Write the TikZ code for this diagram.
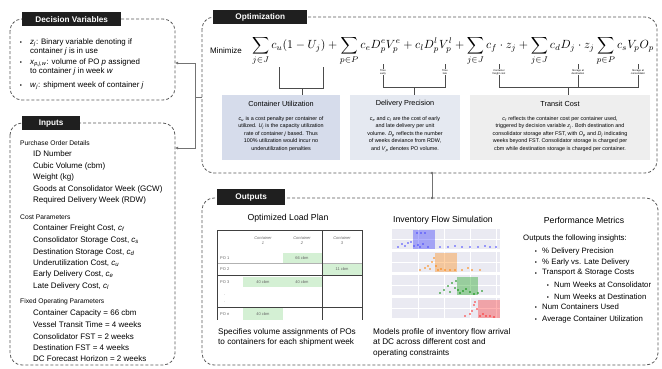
\RequirePackage{fix-cm}
\documentclass[tikz,border=0pt]{standalone}
\usepackage{amsmath}
\usepackage{graphicx}
\usepackage{fontspec}
\setmainfont{Liberation Sans}
\usetikzlibrary{arrows.meta}
\definecolor{cuc}{HTML}{D6DCEB}
\definecolor{dpc}{HTML}{E5E9F1}
\definecolor{tcc}{HTML}{EEEEEE}
\definecolor{seab}{HTML}{EAEAF2}
\definecolor{grn}{HTML}{D4F0D4}
\newcommand{\vv}[2]{\textit{#1}\textsubscript{\textit{#2}}}
\newcommand{\vx}[1]{\textit{#1}}
\begin{document}
\begin{tikzpicture}[x=1pt,y=-1pt,
  panel/.style={draw=black!65, dash pattern=on 3pt off 2pt, line width=0.8pt, rounded corners=12pt},
  ttl/.style={fill=black!88, text=white, font=\fontsize{8.2}{9}\selectfont\bfseries, inner sep=0pt, minimum height=14pt, anchor=north west},
  bul/.style={anchor=base, inner sep=0pt, font=\fontsize{6}{7}\selectfont},
  dvt/.style={anchor=base west, align=left, inner sep=0pt, font=\fontsize{7.9}{9}\selectfont},
  hd/.style={anchor=west, inner sep=0pt, font=\fontsize{6.7}{7}\selectfont},
  itm/.style={anchor=west, inner sep=0pt, font=\fontsize{8}{9}\selectfont},
  pmi/.style={anchor=west, inner sep=0pt, font=\fontsize{7.8}{9}\selectfont},
  bx/.style={anchor=north west, inner sep=0pt},
  bxt/.style={font=\fontsize{7.3}{8}\selectfont, inner sep=0pt},
  bxb/.style={align=center, font=\fontsize{5.4}{7.5}\selectfont, inner sep=0pt},
  conn/.style={draw=black!55, line width=0.9pt},
  tinyl/.style={font=\fontsize{2.6}{3}\selectfont, align=center, inner sep=0.3pt},
  brk/.style={draw=black!70, line width=0.7pt},
  otitle/.style={font=\fontsize{8.7}{9}\selectfont, inner sep=0pt},
  capt/.style={anchor=north west, align=left, inner sep=0pt, font=\fontsize{8.2}{10.8}\selectfont},
  tline/.style={draw=black!75, line width=0.9pt},
  thin/.style={draw=black!30, line width=0.4pt},
  cell/.style={font=\fontsize{4}{5}\selectfont, text=black!60, inner sep=0pt}
]
\useasboundingbox (0,0) rectangle (662,368);

% ---------------- Decision variables ----------------
\draw[panel] (10,19) rectangle (175,100);
\node[ttl, minimum width=99pt] (tdv) at (22,12) {Decision Variables};
\node[bul] (b1) at (21,44) {\textbullet};
\node[dvt] (dv1) at (30,53) {\vv{z}{j}: Binary variable denoting if\\container \vx{j} is in use};
\node[bul] (b2) at (21,64) {\textbullet};
\node[dvt] (dv2) at (30,73) {\vv{x}{p,j,w}: volume of PO \vx{p} assigned\\to container \vx{j} in week \vx{w}};
\node[bul] (b3) at (21,87) {\textbullet};
\node[dvt] (dv3) at (30,87) {\vv{w}{j}: shipment week of container \vx{j}};

% ---------------- Inputs ----------------
\draw[panel] (10,123) rectangle (175,365);
\node[ttl, minimum width=58pt] (tin) at (22,116) {Inputs};
\node[hd] (h1) at (20,143) {Purchase Order Details};
\node[itm] (i1) at (33,154) {ID Number};
\node[itm] (i2) at (33,166) {Cubic Volume (cbm)};
\node[itm] (i3) at (33,177) {Weight (kg)};
\node[itm] (i4) at (33,189) {Goods at Consolidator Week (GCW)};
\node[itm] (i5) at (33,200) {Required Delivery Week (RDW)};
\node[hd] (h2) at (20,217) {Cost Parameters};
\node[itm] (i6) at (33,228) {Container Freight Cost, \vv{c}{f}};
\node[itm] (i7) at (33,240) {Consolidator Storage Cost, \vv{c}{s}};
\node[itm] (i8) at (33,252) {Destination Storage Cost, \vv{c}{d}};
\node[itm] (i9) at (33,263) {Underutilization Cost, \vv{c}{u}};
\node[itm] (i10) at (33,274) {Early Delivery Cost, \vv{c}{e}};
\node[itm] (i11) at (33,286) {Late Delivery Cost, \vv{c}{l}};
\node[hd] (h3) at (20,302) {Fixed Operating Parameters};
\node[itm] (i12) at (33,313) {Container Capacity = 66 cbm};
\node[itm] (i13) at (33,325) {Vessel Transit Time = 4 weeks};
\node[itm] (i14) at (33,337) {Consolidator FST = 2 weeks};
\node[itm] (i15) at (33,348) {Destination FST = 4 weeks};
\node[itm] (i16) at (33,359) {DC Forecast Horizon = 2 weeks};

% left bracket connector
\coordinate (dvR) at (175,63);
\coordinate (inR) at (175,148);
\coordinate (bxm) at (195,97);
\coordinate (opL) at (202,97);
\draw[conn, {Latex[length=3pt,width=3pt]}-{Latex[length=3pt,width=3pt]}] (dvR) -- (dvR -| bxm) -- (inR -| bxm) -- (inR);
\draw[conn] (bxm) -- (opL);

% ---------------- Optimization ----------------
\draw[panel] (202,17) rectangle (657,173);
\node[ttl, minimum width=94pt] (top) at (213,10) {Optimization};
\node[anchor=west, inner sep=0pt, font=\fontsize{8}{9}\selectfont] (mini) at (210,51) {Minimize};
\node[anchor=west, inner sep=0pt] (obj) at (252,51) {\resizebox{402pt}{!}{$\displaystyle\sum_{j\in J} c_u(1-U_j) + \sum_{p\in P} c_e D_p^e V_p^e + c_l D_p^l V_p^l + \sum_{j\in J} c_f\cdot z_j + \sum_{j\in J} c_d D_j\cdot z_j \sum_{p\in P} c_s V_p O_p$}};

% term labels
\node[tinyl] (l1) at (383,72) {Time\\early};
\node[tinyl] (l2) at (445,72) {Time\\late};
\node[tinyl] (l3) at (499,72) {Container\\freight cost};
\node[tinyl] (l4) at (578,72) {Storage at\\destination};
\node[tinyl] (l5) at (638,72) {Storage at\\consolidator};
\foreach \n in {l1,l2,l3,l4,l5}{
  \draw[brk, line width=0.5pt] (\n.north) -- ++(0,-5);
}
% bracket 1
\coordinate (k1a) at (279,67);
\coordinate (k1b) at (323,67);
\coordinate (k1m) at (302,88);
\draw[brk] (k1a) -- (k1a |- k1m) -- (k1b |- k1m) -- (k1b);
% bracket 2
\coordinate (k2m) at (414,87);
\draw[brk] (l1.south) -- (l1.south |- k2m) -- (l2.south |- k2m) -- (l2.south);
% bracket 3
\coordinate (k3m) at (568,87);
\draw[brk] (l3.south) -- (l3.south |- k3m) -- (l5.south |- k3m) -- (l5.south);
\draw[brk] (l4.south) -- (l4.south |- k3m);

% explanation boxes
\node[bx, fill=cuc, minimum width=118pt, minimum height=65pt] (cu) at (222,95) {};
\node[bx, fill=dpc, minimum width=110pt, minimum height=65pt] (dp) at (350,95) {};
\node[bx, fill=tcc, minimum width=180pt, minimum height=65pt] (tc) at (470,95) {};
\draw[brk] (k1m) -- (k1m |- cu.north);
\draw[brk] (k2m) -- (k2m |- dp.north);
\draw[brk] (k3m) -- (k3m |- tc.north);

\node[bxt] (cut) at (281,104) {Container Utilization};
\node[bxb] (cub) at (281,134) {\vv{c}{u} is a cost penalty per container of\\utilized. \vv{U}{j} is the capacity utilization\\rate of container \vx{j} based. Thus\\100\% utilization would incur no\\underutilization penalties};
\node[bxt] (dpt) at (405,104) {Delivery Precision};
\node[bxb] (dpb) at (405,134) {\vv{c}{e} and \vv{c}{l} are the cost of early\\and late delivery per unit\\volume. \vv{D}{p} reflects the number\\of weeks deviance from RDW,\\and \vv{V}{p} denotes PO volume.};
\node[bxt] (tct) at (560,104) {Transit Cost};
\node[bxb] (tcb) at (560,134) {\vv{c}{f} reflects the container cost per container used,\\triggered by decision variable \vv{z}{j}. Both destination and\\consolidator storage after FST, with \vv{O}{p} and \vv{D}{j} indicating\\weeks beyond FST. Consolidator storage is charged per\\cbm while destination storage is charged per container.};

% optimization -> outputs
\coordinate (opB) at (432,173);
\coordinate (ouT) at (432,198);
\draw[conn] (opB) -- (ouT);
\fill[black!55] (opB) circle (1.3pt) (ouT) circle (1.3pt);

% ---------------- Outputs ----------------
\draw[panel] (202,198) rectangle (658,365);
\node[ttl, minimum width=68pt, minimum height=16pt] (tou) at (217,189) {Outputs};

% Load plan
\node[otitle] (lpt) at (288,218) {Optimized Load Plan};
\fill[grn] (283,253) rectangle (322,263);
\fill[grn] (322,263) rectangle (362,275);
\fill[grn] (243,277) rectangle (322,287);
\fill[grn] (243,308) rectangle (283,320);
\draw[thin] (217,263) -- (362,263);
\draw[tline] (217,230) -- (362,230);
\draw[tline] (217,275) -- (362,275);
\draw[tline] (217,307) -- (362,307);
\draw[tline] (217,230) -- (217,320);
\draw[tline] (322,230) -- (322,320);
\draw[tline] (362,230) -- (362,320);
\node[cell, align=center, font=\fontsize{4}{5}\selectfont\itshape] (c1) at (263,241) {Container\\1};
\node[cell, align=center, font=\fontsize{4}{5}\selectfont\itshape] (c2) at (302,241) {Container\\2};
\node[cell, align=center, font=\fontsize{4}{5}\selectfont\itshape] (c3) at (342,241) {Container\\3};
\node[cell, anchor=west] (p1) at (220,258) {PO 1};
\node[cell, anchor=west] (p2) at (220,269) {PO 2};
\node[cell, anchor=west] (p3) at (220,282) {PO 3};
\node[cell] (pd1) at (225,295) {.};
\node[cell] (pd2) at (225,302) {.};
\node[cell, anchor=west] (pn) at (220,314) {PO \vx{n}};
\node[cell] (v1) at (302,258) {66 cbm};
\node[cell] (v2) at (342,269) {11 cbm};
\node[cell] (v3) at (263,282) {40 cbm};
\node[cell] (v4) at (302,282) {40 cbm};
\node[cell] (v5) at (263,314) {40 cbm};
\node[capt] (lpc) at (218,328) {Specifies volume assignments of POs\\to containers for each shipment week};

% Inventory flow simulation
\node[otitle] (ift) at (443,220) {Inventory Flow Simulation};
\foreach \t/\b in {229/249, 252/272, 275/295, 298/318}{
  \fill[seab] (392,\t) rectangle (500,\b);
  \foreach \gx in {418,444,470,496}{\draw[white, line width=0.4pt] (\gx,\t) -- (\gx,\b);}
  \draw[white, line width=0.4pt] (392,{(\t+\b)/2}) -- (500,{(\t+\b)/2});
}
\fill[blue, opacity=0.3] (413,230) rectangle (435,249);
\fill[orange, opacity=0.35] (435,253) rectangle (457,272);
\fill[green!60!black, opacity=0.35] (457,277) rectangle (478,295);
\fill[red, opacity=0.3] (478,300) rectangle (500,318);
\foreach \px/\py in {398/247,402/244,405/246,408/243,411/242,414/246,418/245,420/247,423/244,428/247,440/247,448/247,455/246,462/247,470/247,478/247,485/246,490/247,496/247,417/233,421/233,425/233}{
  \fill[blue!75] (\px,\py) circle (0.8pt);}
\foreach \px/\py in {420/270,425/268,428/266,430/269,432/262,436/266,438/270,441/269,445/270,450/270,455/270,462/270,468/268,472/270,480/270,434/258}{
  \fill[orange] (\px,\py) circle (0.8pt);}
\foreach \px/\py in {440/293,444/290,448/286,450/292,452/283,455/288,458/290,460/293,463/291,466/289,470/292,474/294,478/293,482/291,456/281}{
  \fill[green!55!black] (\px,\py) circle (0.8pt);}
\foreach \px/\py in {465/316,470/314,472/311,474/305,475/302,477/309,480/316,483/314,486/316,490/316,494/317}{
  \fill[red!85] (\px,\py) circle (0.8pt);}
\node[capt] (ifc) at (373,328) {Models profile of inventory flow arrival\\at DC across different cost and\\operating constraints};

% Performance metrics
\node[otitle] (pmt) at (584,220) {Performance Metrics};
\node[pmi] (pmi0) at (523,238) {Outputs the following insights:};
\node[bul] (pb1) at (536,253) {\textbullet};
\node[pmi] (pm1) at (542,251) {\% Delivery Precision};
\node[bul] (pb2) at (536,264) {\textbullet};
\node[pmi] (pm2) at (542,262) {\% Early vs. Late Delivery};
\node[bul] (pb3) at (536,275) {\textbullet};
\node[pmi] (pm3) at (542,273) {Transport \& Storage Costs};
\node[bul] (pb4) at (548,287) {\textbullet};
\node[pmi] (pm4) at (554,285) {Num Weeks at Consolidator};
\node[bul] (pb5) at (548,299) {\textbullet};
\node[pmi] (pm5) at (554,297) {Num Weeks at Destination};
\node[bul] (pb6) at (536,309) {\textbullet};
\node[pmi] (pm6) at (542,307) {Num Containers Used};
\node[bul] (pb7) at (536,321) {\textbullet};
\node[pmi] (pm7) at (542,319) {Average Container Utilization};
\end{tikzpicture}
\end{document}
